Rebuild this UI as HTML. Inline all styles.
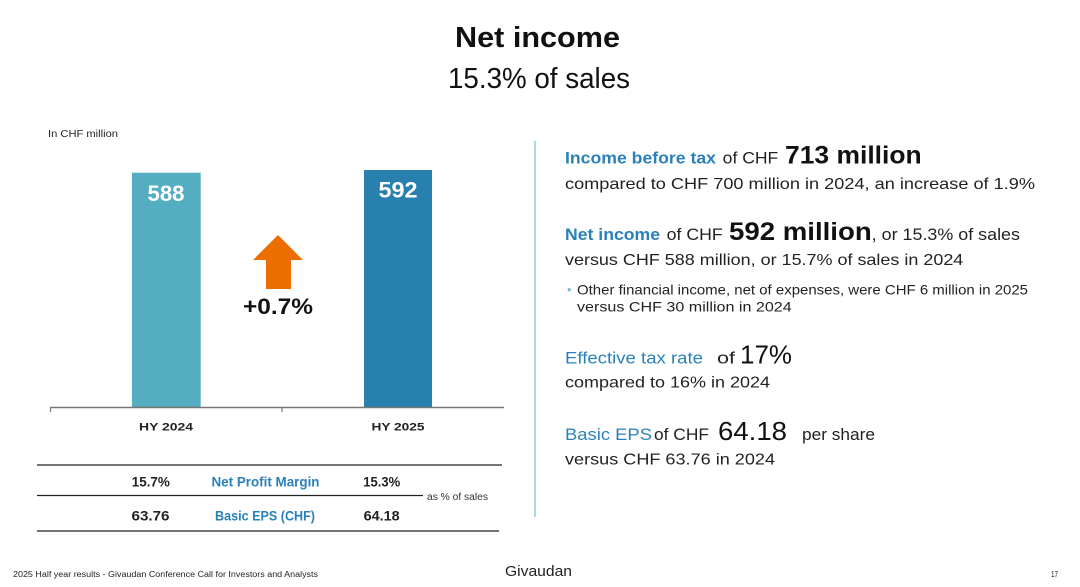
<!DOCTYPE html>
<html>
<head>
<meta charset="utf-8">
<style>
  html,body{margin:0;padding:0;background:#fff;}
  svg{display:block;}
  text{font-family:"Liberation Sans",sans-serif;}
</style>
</head>
<body>
<svg width="1080" height="587" viewBox="0 0 1080 587" xmlns="http://www.w3.org/2000/svg">
  <rect width="1080" height="587" fill="#fff"/>

  <!-- Title -->
  <text x="455" y="47" font-size="29" font-weight="bold" fill="#111" textLength="165" lengthAdjust="spacingAndGlyphs">Net income</text>
  <text x="448" y="88" font-size="29" fill="#111" textLength="182" lengthAdjust="spacingAndGlyphs">15.3% of sales</text>

  <!-- Chart -->
  <text x="48" y="137" font-size="10" fill="#222" textLength="70" lengthAdjust="spacingAndGlyphs">In CHF million</text>

  <rect x="132" y="172.7" width="68.7" height="234.8" fill="#54adc0"/>
  <rect x="364" y="170" width="68" height="237.5" fill="#2780ad"/>

  <text x="166" y="201" font-size="22" font-weight="bold" fill="#fff" text-anchor="middle" textLength="37" lengthAdjust="spacingAndGlyphs">588</text>
  <text x="398" y="197.5" font-size="22" font-weight="bold" fill="#fff" text-anchor="middle" textLength="39" lengthAdjust="spacingAndGlyphs">592</text>

  <line x1="50" y1="407.5" x2="504" y2="407.5" stroke="#777" stroke-width="1.6"/>
  <line x1="50.5" y1="407.5" x2="50.5" y2="412" stroke="#777" stroke-width="1.2"/>
  <line x1="282" y1="407.5" x2="282" y2="412" stroke="#777" stroke-width="1.2"/>

  <text x="166" y="430.5" font-size="11" font-weight="bold" fill="#222" text-anchor="middle" textLength="54" lengthAdjust="spacingAndGlyphs">HY 2024</text>
  <text x="398" y="430.5" font-size="11" font-weight="bold" fill="#222" text-anchor="middle" textLength="53" lengthAdjust="spacingAndGlyphs">HY 2025</text>

  <polygon points="278,235 303,260 291,260 291,289 266,289 266,260 253,260" fill="#ec6e00"/>
  <text x="278" y="314" font-size="22" font-weight="bold" fill="#111" text-anchor="middle" textLength="70" lengthAdjust="spacingAndGlyphs">+0.7%</text>

  <!-- Table -->
  <line x1="37" y1="465" x2="502" y2="465" stroke="#222" stroke-width="1.3"/>
  <line x1="37" y1="495.5" x2="423" y2="495.5" stroke="#222" stroke-width="1.3"/>
  <line x1="37" y1="531" x2="499" y2="531" stroke="#222" stroke-width="1.3"/>

  <text x="150.8" y="486.5" font-size="13.5" font-weight="bold" fill="#222" text-anchor="middle" textLength="38" lengthAdjust="spacingAndGlyphs">15.7%</text>
  <text x="265.5" y="486.5" font-size="13.5" font-weight="bold" fill="#2a80b9" text-anchor="middle" textLength="108" lengthAdjust="spacingAndGlyphs">Net Profit Margin</text>
  <text x="381.7" y="486.5" font-size="13.5" font-weight="bold" fill="#222" text-anchor="middle" textLength="37" lengthAdjust="spacingAndGlyphs">15.3%</text>

  <text x="150.5" y="520.5" font-size="13.5" font-weight="bold" fill="#222" text-anchor="middle" textLength="38" lengthAdjust="spacingAndGlyphs">63.76</text>
  <text x="265" y="520.5" font-size="13.5" font-weight="bold" fill="#2a80b9" text-anchor="middle" textLength="100" lengthAdjust="spacingAndGlyphs">Basic EPS (CHF)</text>
  <text x="381.7" y="520.5" font-size="13.5" font-weight="bold" fill="#222" text-anchor="middle" textLength="36" lengthAdjust="spacingAndGlyphs">64.18</text>

  <text x="427" y="500" font-size="10" fill="#333" textLength="61" lengthAdjust="spacingAndGlyphs">as % of sales</text>

  <!-- Divider -->
  <line x1="535" y1="141" x2="535" y2="517" stroke="#a9d8e2" stroke-width="2"/>

  <!-- Right text block -->
  <text x="565" y="163.3" font-size="16.5" font-weight="bold" fill="#2a80b9" textLength="151" lengthAdjust="spacingAndGlyphs">Income before tax</text>
  <text x="722.7" y="163.3" font-size="16.5" fill="#222" textLength="55.6" lengthAdjust="spacingAndGlyphs">of CHF</text>
  <text x="785" y="163.3" font-size="25" font-weight="bold" fill="#111" textLength="136.7" lengthAdjust="spacingAndGlyphs">713 million</text>
  <text x="565" y="189" font-size="16" fill="#222" textLength="470" lengthAdjust="spacingAndGlyphs">compared to CHF 700 million in 2024, an increase of 1.9%</text>

  <text x="565" y="240" font-size="16.5" font-weight="bold" fill="#2a80b9" textLength="95" lengthAdjust="spacingAndGlyphs">Net income</text>
  <text x="666.7" y="240" font-size="16.5" fill="#222" textLength="56" lengthAdjust="spacingAndGlyphs">of CHF</text>
  <text x="729" y="240" font-size="25" font-weight="bold" fill="#111" textLength="142.7" lengthAdjust="spacingAndGlyphs">592 million</text>
  <text x="871.7" y="240" font-size="16.5" fill="#222" textLength="148.3" lengthAdjust="spacingAndGlyphs">, or 15.3% of sales</text>
  <text x="565" y="265" font-size="16" fill="#222" textLength="398.3" lengthAdjust="spacingAndGlyphs">versus CHF 588 million, or 15.7% of sales in 2024</text>

  <text x="567" y="294" font-size="13" fill="#7fbcd3">•</text>
  <text x="577" y="294.3" font-size="14" fill="#222" textLength="451" lengthAdjust="spacingAndGlyphs">Other financial income, net of expenses, were CHF 6 million in 2025</text>
  <text x="577" y="311.7" font-size="14" fill="#222" textLength="214.7" lengthAdjust="spacingAndGlyphs">versus CHF 30 million in 2024</text>

  <text x="565" y="363.3" font-size="17" fill="#2a80b9" textLength="138" lengthAdjust="spacingAndGlyphs">Effective tax rate</text>
  <text x="717" y="363.3" font-size="17" fill="#222" textLength="18" lengthAdjust="spacingAndGlyphs">of</text>
  <text x="740" y="363.3" font-size="26" fill="#111" textLength="52" lengthAdjust="spacingAndGlyphs">17%</text>
  <text x="565" y="387.3" font-size="16" fill="#222" textLength="205" lengthAdjust="spacingAndGlyphs">compared to 16% in 2024</text>

  <text x="565" y="440" font-size="17" fill="#2a80b9" textLength="87" lengthAdjust="spacingAndGlyphs">Basic EPS</text>
  <text x="654" y="440" font-size="17" fill="#222" textLength="55" lengthAdjust="spacingAndGlyphs">of CHF</text>
  <text x="718" y="440" font-size="26" fill="#111" textLength="69" lengthAdjust="spacingAndGlyphs">64.18</text>
  <text x="802" y="440" font-size="17" fill="#222" textLength="73" lengthAdjust="spacingAndGlyphs">per share</text>
  <text x="565" y="464.3" font-size="16" fill="#222" textLength="210" lengthAdjust="spacingAndGlyphs">versus CHF 63.76 in 2024</text>

  <!-- Footer -->
  <text x="13" y="577" font-size="8" fill="#222" textLength="305" lengthAdjust="spacingAndGlyphs">2025 Half year results - Givaudan Conference Call for Investors and Analysts</text>
  <text x="505" y="576" font-size="15" fill="#222" textLength="67" lengthAdjust="spacingAndGlyphs">Givaudan</text>
  <text x="1051" y="577" font-size="8" fill="#222" textLength="7" lengthAdjust="spacingAndGlyphs">17</text>
</svg>
</body>
</html>
